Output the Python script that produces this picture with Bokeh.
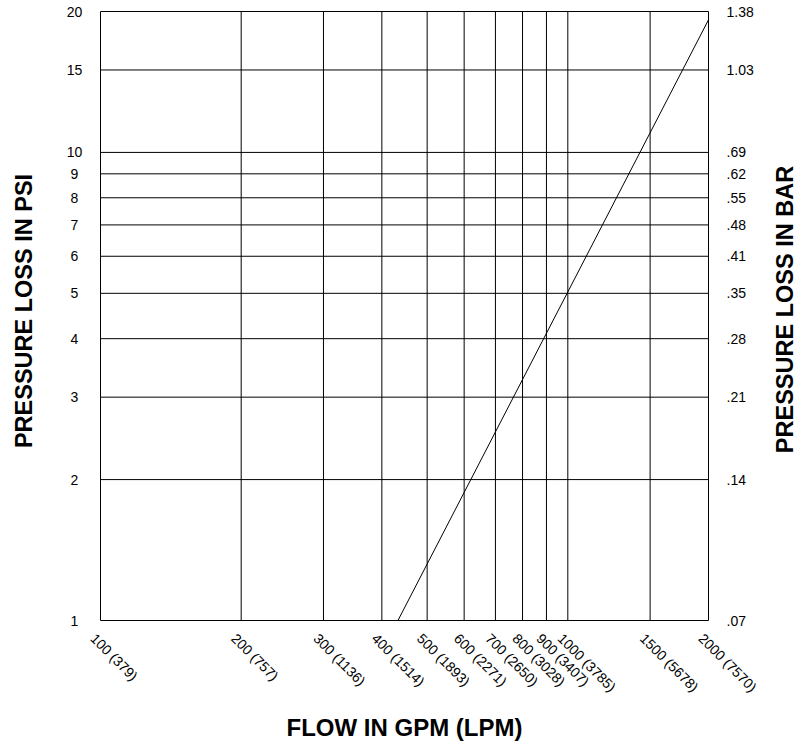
import math
from bokeh.plotting import figure
from bokeh.models import ColumnDataSource, LabelSet, Label, Range1d
from bokeh.core.properties import value
from bokeh.embed import file_html
from bokeh.resources import INLINE

# ---- data ----
flow_ticks = [100, 200, 300, 400, 500, 600, 700, 800, 900, 1000, 1500, 2000]
flow_labels = ["100 (379)", "200 (757)", "300 (1136)", "400 (1514)", "500 (1893)",
               "600 (2271)", "700 (2650)", "800 (3028)", "900 (3407)", "1000 (3785)",
               "1500 (5678)", "2000 (7570)"]
psi_ticks = [1, 2, 3, 4, 5, 6, 7, 8, 9, 10, 15, 20]
psi_labels = ["1", "2", "3", "4", "5", "6", "7", "8", "9", "10", "15", "20"]
bar_labels = [".07", ".14", ".21", ".28", ".35", ".41", ".48", ".55", ".62", ".69", "1.03", "1.38"]

curve_flow = [433, 2000]
curve_psi = [1.0, 19.2]

FONT = "Liberation Sans"

# ---- layout: plot box (in pixels) inside a full-canvas frame ----
W, H = 797, 742
BOX_L, BOX_R, BOX_T, BOX_B = 100, 708, 11, 620
xmin, xmax = flow_ticks[0], flow_ticks[-1]
ymin, ymax = psi_ticks[0], psi_ticks[-1]
xppd = (BOX_R - BOX_L) / math.log10(xmax / xmin)
yppd = (BOX_B - BOX_T) / math.log10(ymax / ymin)
x_start = 10 ** (math.log10(xmin) - BOX_L / xppd)
x_end = 10 ** (math.log10(xmin) + (W - BOX_L) / xppd)
y_start = 10 ** (math.log10(ymin) - (H - BOX_B) / yppd)
y_end = 10 ** (math.log10(ymin) + BOX_B / yppd)

def ydata(py):
    return 10 ** (math.log10(ymin) + (BOX_B - py) / yppd)

p = figure(width=W, height=H, x_axis_type="log", y_axis_type="log",
           x_range=Range1d(x_start, x_end), y_range=Range1d(y_start, y_end),
           output_backend="svg", toolbar_location=None,
           x_axis_location=None, y_axis_location=None,
           min_border=0)
p.grid.visible = False
p.outline_line_color = None
p.background_fill_color = "white"
p.border_fill_color = "white"

# vertical grid lines + left/right frame
p.segment(x0=flow_ticks, x1=flow_ticks, y0=[ymin] * len(flow_ticks), y1=[ymax] * len(flow_ticks),
          line_color="black", line_width=1)
# horizontal grid lines + top/bottom frame
p.segment(x0=[xmin] * len(psi_ticks), x1=[xmax] * len(psi_ticks), y0=psi_ticks, y1=psi_ticks,
          line_color="black", line_width=1)

p.line(curve_flow, curve_psi, line_color="black", line_width=1)

ysrc = ColumnDataSource(dict(x0=[xmin] * len(psi_ticks), x1=[xmax] * len(psi_ticks),
                             y=psi_ticks, psi=psi_labels, bar=bar_labels))
p.add_layout(LabelSet(x="x0", y="y", text="psi", source=ysrc, x_offset=-26,
                      text_align="center", text_baseline="middle",
                      text_font=value(FONT), text_font_size="14px", text_color="black"))
p.add_layout(LabelSet(x="x1", y="y", text="bar", source=ysrc, x_offset=18,
                      text_align="left", text_baseline="middle",
                      text_font=value(FONT), text_font_size="14px", text_color="black"))

xsrc = ColumnDataSource(dict(x=flow_ticks, y=[ymin] * len(flow_ticks), t=flow_labels))
p.add_layout(LabelSet(x="x", y="y", text="t", source=xsrc, x_offset=-7.5, y_offset=-15.5,
                      angle=-math.pi / 4, text_align="left", text_baseline="middle",
                      text_font=value(FONT), text_font_size="14px", text_color="black"))

p.add_layout(Label(x=xmin, y=ydata(310.5), x_offset=-77, text="PRESSURE LOSS IN PSI", angle=math.pi / 2,
                   text_align="center", text_baseline="alphabetic", text_font=FONT,
                   text_font_style="bold", text_font_size="23.5px", text_color="black"))
p.add_layout(Label(x=xmax, y=ydata(309), x_offset=76, text="PRESSURE LOSS IN BAR", angle=math.pi / 2,
                   text_align="center", text_baseline="alphabetic", text_font=FONT,
                   text_font_style="bold", text_font_size="23.5px", text_color="black"))
p.add_layout(Label(x=math.sqrt(xmin * xmax), y=ymin, y_offset=-107, text="FLOW IN GPM (LPM)",
                   text_align="center", text_baseline="alphabetic", text_font=FONT,
                   text_font_style="bold", text_font_size="24px", text_color="black"))

open("out.html", "w").write(file_html(p, INLINE))
